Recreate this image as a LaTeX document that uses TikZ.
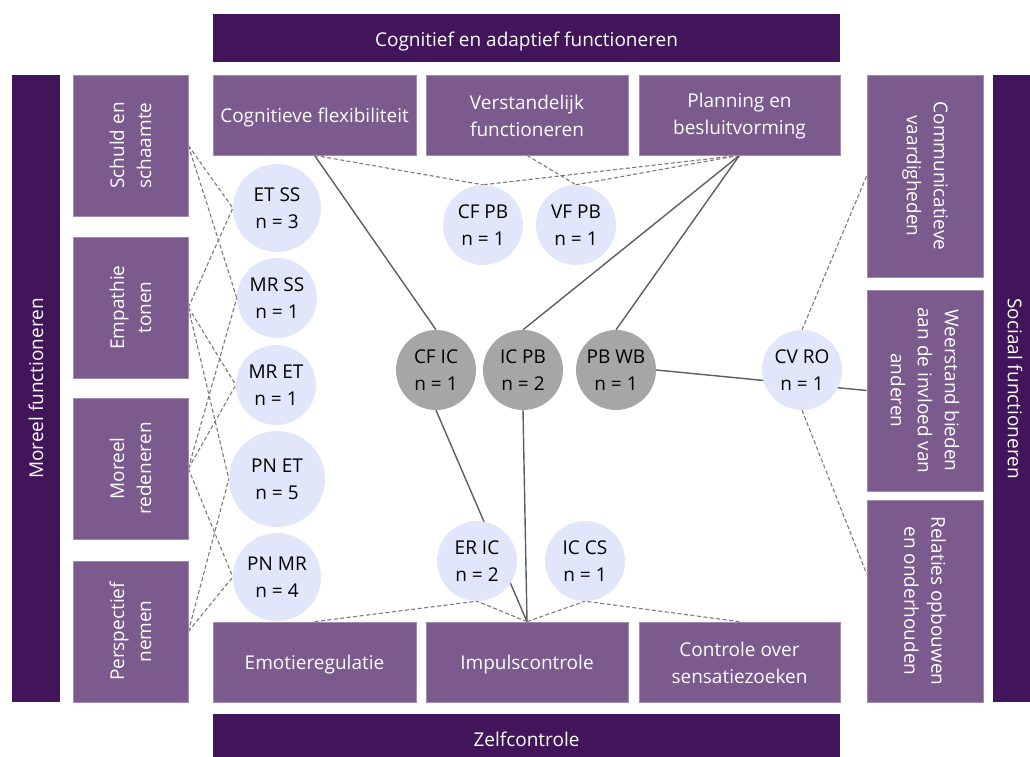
\documentclass[tikz,border=0pt]{standalone}
\usepackage{fontspec}
\setmainfont{Open Sans}
\usetikzlibrary{calc}
\definecolor{barc}{HTML}{42155B}
\definecolor{boxc}{HTML}{7B5A8E}
\definecolor{boxedge}{HTML}{A08CB0}
\definecolor{circc}{HTML}{E2E6FB}
\definecolor{grayc}{HTML}{A6A6A6}
\definecolor{dashc}{HTML}{7A7A7A}
\definecolor{solidc}{HTML}{5E5E5E}
\pgfdeclarelayer{bg}
\pgfsetlayers{bg,main}
\newcommand{\diafont}{\fontsize{19}{27}\selectfont}
\begin{document}
\begin{tikzpicture}[x=1pt,y=-1pt,
  purplebar/.style={fill=barc, draw=none, inner sep=0pt},
  purplebox/.style={fill=boxc, draw=boxedge, line width=0.7pt, inner sep=0pt},
  boxtxt/.style={text=white, align=center, font=\diafont, inner sep=0pt},
  oneline/.style={boxtxt, yshift=-2.5pt},
  twoline/.style={boxtxt, yshift=-1pt},
  lcirc/.style={circle, fill=circc, draw=none, inner sep=0pt, minimum size=80pt, align=center, font=\diafont, text=black},
  gcirc/.style={lcirc, fill=grayc},
  dashline/.style={draw=dashc, dash pattern=on 4pt off 2.5pt, line width=1.1pt},
  solidline/.style={draw=solidc, line width=1.4pt}]
\useasboundingbox (0,0) rectangle (1030,757);
% outer bars
\node[purplebar, minimum width=627pt, minimum height=48pt] (top) at (526.5,38) {};
\node[boxtxt, yshift=-4pt] at (top) {Cognitief en adaptief functioneren};
\node[purplebar, minimum width=627pt, minimum height=48pt] (bot) at (526.5,738) {};
\node[boxtxt, yshift=-1pt] at (bot) {Zelfcontrole};
\node[purplebar, minimum width=48pt, minimum height=627pt] (left) at (36,388.5) {};
\node[boxtxt, rotate=90] at (left) {Moreel functioneren};
\node[purplebar, minimum width=48pt, minimum height=627pt] (right) at (1017,388.5) {};
\node[boxtxt, rotate=-90] at (1015,388.5) {Sociaal functioneren};
% top row
\node[purplebox, minimum width=203pt, minimum height=80pt] (cf) at (314.5,115) {};
\node[oneline] at (cf) {Cognitieve flexibiliteit};
\node[purplebox, minimum width=202pt, minimum height=80pt] (vf) at (527,115) {};
\node[twoline] at (vf) {Verstandelijk\\functioneren};
\node[purplebox, minimum width=201pt, minimum height=80pt] (pb) at (739.5,115) {};
\node[twoline] at (pb) {Planning en\\besluitvorming};
% bottom row
\node[purplebox, minimum width=203pt, minimum height=80pt] (er) at (314.5,662) {};
\node[oneline] at (er) {Emotieregulatie};
\node[purplebox, minimum width=202pt, minimum height=80pt] (ic) at (527,662) {};
\node[oneline] at (ic) {Impulscontrole};
\node[purplebox, minimum width=201pt, minimum height=80pt] (cs) at (739.5,662) {};
\node[twoline] at (cs) {Controle over\\sensatiezoeken};
% left column
\node[purplebox, minimum width=115pt, minimum height=141pt] (ss) at (130.5,145.5) {};
\node[boxtxt, rotate=90] at (ss) {Schuld en\\schaamte};
\node[purplebox, minimum width=115pt, minimum height=141pt] (et) at (130.5,307.5) {};
\node[boxtxt, rotate=90] at (et) {Empathie\\tonen};
\node[purplebox, minimum width=115pt, minimum height=141pt] (mr) at (130.5,468.5) {};
\node[boxtxt, rotate=90] at (mr) {Moreel\\redeneren};
\node[purplebox, minimum width=115pt, minimum height=141pt] (pn) at (130.5,631.5) {};
\node[boxtxt, rotate=90] at (pn) {Perspectief\\nemen};
% right column
\node[purplebox, minimum width=116pt, minimum height=202pt] (cv) at (925,176) {};
\node[boxtxt, rotate=-90] at (cv) {Communicatieve\\vaardigheden};
\node[purplebox, minimum width=116pt, minimum height=201pt] (wb) at (925,390.5) {};
\node[boxtxt, rotate=-90] at (wb) {Weerstand bieden\\aan de invloed van\\anderen};
\node[purplebox, minimum width=116pt, minimum height=202pt] (ro) at (925,601) {};
\node[boxtxt, rotate=-90] at (ro) {Relaties opbouwen\\en onderhouden};
% circles
\node[lcirc, minimum size=88pt] (etss) at (277,208) {ET SS\\n = 3};
\node[lcirc] (mrss) at (277,298) {MR SS\\n = 1};
\node[lcirc] (mret) at (276,385) {MR ET\\n = 1};
\node[lcirc, minimum size=96pt] (pnet) at (277,479) {PN ET\\n = 5};
\node[lcirc, minimum size=88pt] (pnmr) at (277,577) {PN MR\\n = 4};
\node[lcirc] (cfpb) at (483,225) {CF PB\\n = 1};
\node[lcirc] (vfpb) at (576,225) {VF PB\\n = 1};
\node[gcirc] (cfic) at (436,370) {CF IC\\n = 1};
\node[gcirc] (icpb) at (523,370) {IC PB\\n = 2};
\node[gcirc] (pbwb) at (616,370) {PB WB\\n = 1};
\node[lcirc] (cvro) at (802,370) {CV RO\\n = 1};
\node[lcirc] (eric) at (477,561) {ER IC\\n = 2};
\node[lcirc] (iccs) at (585,561) {IC CS\\n = 1};
\coordinate (rop) at ($(ro.north west)!0.366!(ro.south west)$);
\begin{pgfonlayer}{bg}
% left dashed
\draw[dashline] (ss.east) -- (etss.west);
\draw[dashline] (ss.east) -- (mrss.west);
\draw[dashline] (et.east) -- (etss.west);
\draw[dashline] (et.east) -- (mret.west);
\draw[dashline] (et.east) -- (pnet.west);
\draw[dashline] (mr.east) -- (mrss.west);
\draw[dashline] (mr.east) -- (mret.west);
\draw[dashline] (mr.east) -- (pnmr.west);
\draw[dashline] (pn.east) -- (pnet.west);
\draw[dashline] (pn.east) -- (pnmr.west);
% top dashed
\draw[dashline] (cf.south) -- (cfpb.north);
\draw[dashline] (pb.south) -- (cfpb.north);
\draw[dashline] (vf.south) -- (vfpb.north);
\draw[dashline] (pb.south) -- (vfpb.north);
% top solid
\draw[solidline] (cf.south) -- (cfic.north);
\draw[solidline] (pb.south) -- (icpb.north);
\draw[solidline] (pb.south) -- (pbwb.north);
% bottom
\draw[solidline] (cfic.south) -- (ic.north);
\draw[solidline] (icpb.south) -- (ic.north);
\draw[dashline] (er.north) -- (eric.south);
\draw[dashline] (ic.north) -- (eric.south);
\draw[dashline] (ic.north) -- (iccs.south);
\draw[dashline] (cs.north) -- (iccs.south);
% right
\draw[solidline] (pbwb.east) -- (wb.west);
\draw[dashline] (cvro.north) -- (cv.west);
\draw[dashline] (cvro.south) -- (rop);
\end{pgfonlayer}
\end{tikzpicture}
\end{document}
